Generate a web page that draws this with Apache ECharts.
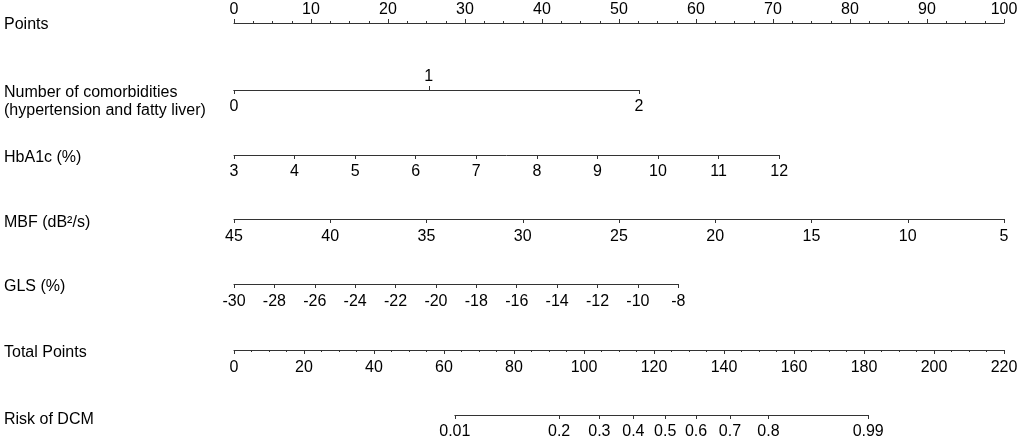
<!DOCTYPE html>
<html>
<head>
<meta charset="utf-8">
<script src="https://cdn.jsdelivr.net/npm/echarts@6/dist/echarts.min.js"></script>
<style>
html,body{margin:0;padding:0;background:#fff;}
#chart{width:1021px;height:441px;}
</style>
</head>
<body>
<div id="chart"></div>
<script>
// ---- data ----
const rowNames = ['Points', 'Number of comorbidities\n(hypertension and fatty liver)', 'HbA1c (%)', 'MBF (dB\u00B2/s)', 'GLS (%)', 'Total Points', 'Risk of DCM'];
const pointsRange = [0, 100];
const pointsInterval = 10;
const comorbidityLabels = ['0', '1', '2'];
const comorbidityPoints = [0, 25.3, 52.6];
const hba1cRange = [3, 12];
const hba1cPointsRange = [0, 70.8];
const hba1cInterval = 1;
const mbfRange = [5, 45];
const mbfPointsRange = [0, 100];
const mbfInterval = 5;
const glsRange = [-30, -8];
const glsPointsRange = [0, 57.7];
const glsInterval = 2;
const totalRange = [0, 220];
const totalInterval = 20;
const riskLabels = ['0.01', '0.2', '0.3', '0.4', '0.5', '0.6', '0.7', '0.8', '0.99'];
const riskTotalPoints = [63.1, 92.9, 104.4, 114.1, 123.2, 132.0, 141.7, 152.7, 181.2];

// ---- layout ----
const AX_LEFT = 234, AX_WIDTH = 770;
const rowY = [23, 90, 155, 219, 284, 350, 415];
const nameY = [25, 102, 158, 223, 287, 353, 420];
const FONT = 'Liberation Sans, Arial, Helvetica, sans-serif';
const TXT = '#000';
const LINE = '#333';
const ppx = AX_WIDTH / (pointsRange[1] - pointsRange[0]);
const tpx = AX_WIDTH / (totalRange[1] - totalRange[0]);

const grids = [], xAxes = [], yAxes = [];
function addGrid(left, width, top) {
  grids.push({left: left, width: width, top: top, height: 0, containLabel: false});
  const gi = grids.length - 1;
  yAxes.push({gridIndex: gi, type: 'value', show: false, min: 0, max: 1});
  return gi;
}
function baseAxis(gi, extra) {
  return Object.assign({
    gridIndex: gi, type: 'value', position: 'bottom',
    splitLine: {show: false},
    axisLine: {show: true, onZero: false, lineStyle: {color: LINE, width: 1}},
    axisTick: {show: true, length: 4, lineStyle: {color: LINE, width: 1}},
    axisLabel: {color: TXT, fontSize: 16, fontFamily: FONT, margin: 9}
  }, extra);
}
function deepAxis(gi, extra, tick, label) {
  const a = baseAxis(gi, extra);
  Object.assign(a.axisTick, tick || {});
  Object.assign(a.axisLabel, label || {});
  return a;
}

// Points
let g = addGrid(AX_LEFT, AX_WIDTH, rowY[0]);
xAxes.push(deepAxis(g, {position: 'top', min: pointsRange[0], max: pointsRange[1], interval: pointsInterval,
  minorTick: {show: true, splitNumber: 4, length: 2, lineStyle: {color: LINE}}}, {}, {margin: 5}));

// Comorbidities (top label "1", bottom labels "0","2")
const comLeft = AX_LEFT + comorbidityPoints[0] * ppx;
const comWidth = (comorbidityPoints[2] - comorbidityPoints[0]) * ppx;
g = addGrid(comLeft, comWidth, rowY[1]);
const comFmt = v => comorbidityLabels[comorbidityPoints.indexOf(v)];
xAxes.push(deepAxis(g, {position: 'bottom', min: comorbidityPoints[0], max: comorbidityPoints[2]},
  {customValues: [comorbidityPoints[0], comorbidityPoints[2]]},
  {customValues: [comorbidityPoints[0], comorbidityPoints[2]], formatter: comFmt}));
xAxes.push(deepAxis(g, {position: 'top', min: comorbidityPoints[0], max: comorbidityPoints[2]},
  {customValues: [comorbidityPoints[1]]},
  {customValues: [comorbidityPoints[1]], formatter: comFmt, margin: 5}));

// HbA1c
g = addGrid(AX_LEFT + hba1cPointsRange[0] * ppx, (hba1cPointsRange[1] - hba1cPointsRange[0]) * ppx, rowY[2]);
xAxes.push(deepAxis(g, {min: hba1cRange[0], max: hba1cRange[1], interval: hba1cInterval}));

// MBF (reversed)
g = addGrid(AX_LEFT + mbfPointsRange[0] * ppx, (mbfPointsRange[1] - mbfPointsRange[0]) * ppx, rowY[3]);
xAxes.push(deepAxis(g, {min: mbfRange[0], max: mbfRange[1], interval: mbfInterval, inverse: true}, {}, {margin: 10}));

// GLS
g = addGrid(AX_LEFT + glsPointsRange[0] * ppx, (glsPointsRange[1] - glsPointsRange[0]) * ppx, rowY[4]);
xAxes.push(deepAxis(g, {min: glsRange[0], max: glsRange[1], interval: glsInterval}, {}, {margin: 10}));

// Total Points
g = addGrid(AX_LEFT, AX_WIDTH, rowY[5]);
xAxes.push(deepAxis(g, {min: totalRange[0], max: totalRange[1], interval: totalInterval,
  minorTick: {show: true, splitNumber: 4, length: 2, lineStyle: {color: LINE}}}, {}, {margin: 10}));

// Risk of DCM (positions in total-points units)
const rMin = riskTotalPoints[0], rMax = riskTotalPoints[riskTotalPoints.length - 1];
g = addGrid(AX_LEFT + (rMin - totalRange[0]) * tpx, (rMax - rMin) * tpx, rowY[6]);
xAxes.push(deepAxis(g, {min: rMin, max: rMax},
  {customValues: riskTotalPoints},
  {customValues: riskTotalPoints, formatter: v => riskLabels[riskTotalPoints.indexOf(v)], margin: 9}));

const graphics = rowNames.map((n, i) => ({
  type: 'text', left: 4, top: nameY[i] - (n.indexOf('\n') >= 0 ? 18 : 9),
  style: {text: n, fill: TXT, font: '16px ' + FONT, lineHeight: 18}
}));

const chart = echarts.init(document.getElementById('chart'), null, {renderer: 'canvas'});
chart.setOption({
  animation: false,
  backgroundColor: '#fff',
  grid: grids,
  xAxis: xAxes,
  yAxis: yAxes,
  series: [],
  graphic: graphics
});
</script>
</body>
</html>
